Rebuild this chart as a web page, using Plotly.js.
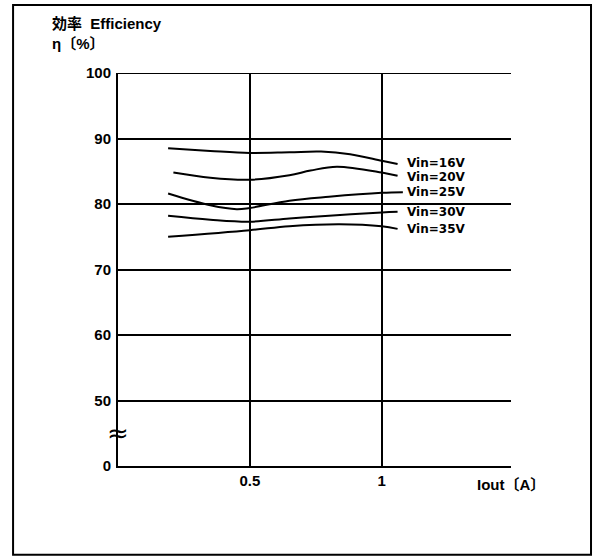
<!DOCTYPE html>
<html>
<head>
<meta charset="utf-8">
<script src="https://cdn.plot.ly/plotly-3.0.1.min.js"></script>
<style>html,body{margin:0;padding:0;background:#fff;}#chart{width:594px;height:557px;}</style>
</head>
<body>
<div id="chart"></div>
<script>
// Data (Iout in A, efficiency in %)
const seriesNames = ["Vin=16V", "Vin=20V", "Vin=25V", "Vin=30V", "Vin=35V"];
const x16 = [0.19, 0.35, 0.5, 0.65, 0.77, 0.88, 1.0, 1.06];
const y16 = [88.5, 88.1, 87.8, 87.9, 88.0, 87.6, 86.6, 86.1];
const x20 = [0.21, 0.35, 0.5, 0.65, 0.73, 0.83, 1.0, 1.06];
const y20 = [84.8, 84.0, 83.7, 84.4, 85.1, 85.7, 84.8, 84.3];
const x25 = [0.19, 0.35, 0.45, 0.5, 0.65, 0.8, 1.0, 1.08];
const y25 = [81.6, 79.8, 79.2, 79.4, 80.5, 81.1, 81.7, 81.8];
const x30 = [0.19, 0.35, 0.5, 0.65, 0.8, 1.0, 1.06];
const y30 = [78.2, 77.6, 77.3, 77.8, 78.2, 78.7, 78.8];
const x35 = [0.19, 0.5, 0.65, 0.84, 1.0, 1.06];
const y35 = [75.0, 76.0, 76.6, 76.9, 76.6, 76.2];
const yTickVals = [40, 50, 60, 70, 80, 90, 100];
const yTickText = ["0", "50", "60", "70", "80", "90", "100"];
const xTickVals = [0.5, 1];
const xTickText = ["0.5", "1"];

const xs = [x16, x20, x25, x30, x35];
const ys = [y16, y20, y25, y30, y35];
const labelX = 1.09;

const traces = seriesNames.map((n, i) => ({
  x: xs[i], y: ys[i], name: n, type: "scatter", mode: "lines",
  line: {color: "#000", width: 2, shape: "spline", smoothing: 1.0},
  hoverinfo: "skip"
}));

const labelShift = [1, -1, 0, 0, 0];
const annotations = seriesNames.map((n, i) => ({
  x: labelX, y: ys[i][ys[i].length - 1],
  xref: "x", yref: "y", text: n, showarrow: false,
  xanchor: "left", yanchor: "middle", yshift: labelShift[i], borderpad: 0,
  font: {family: "DejaVu Sans", size: 12, color: "#000", weight: "bold"}
}));
annotations.push({
  x: 1, y: 0, xref: "paper", yref: "paper", text: "Iout〔A〕", showarrow: false,
  xanchor: "center", yanchor: "top", yshift: -8,
  font: {family: "Liberation Sans, Noto Sans CJK JP", size: 15, color: "#000", weight: "bold"}
});
annotations.push({
  x: 0, y: 45, xref: "paper", yref: "y", text: "≈", showarrow: false,
  xanchor: "center", yanchor: "middle", xshift: 0,
  font: {family: "DejaVu Sans", size: 26, color: "#000"}
});
annotations.push({
  x: -0.173, y: 1.1247, xref: "paper", yref: "paper", text: "効率  Efficiency", showarrow: false,
  xanchor: "left", yanchor: "middle",
  font: {family: "Liberation Sans, Noto Sans CJK JP", size: 15, color: "#000", weight: "bold"}
});
annotations.push({
  x: -0.173, y: 1.0763, xref: "paper", yref: "paper", text: "η〔%〕", showarrow: false,
  xanchor: "left", yanchor: "middle",
  font: {family: "Liberation Sans, Noto Sans CJK JP", size: 15, color: "#000", weight: "bold"}
});

const layout = {
  width: 594, height: 557,
  margin: {l: 118, r: 83, t: 73, b: 91},
  paper_bgcolor: "#fff", plot_bgcolor: "#fff",
  showlegend: false,
  xaxis: {
    range: [0, 1.49], tickvals: xTickVals, ticktext: xTickText,
    showgrid: true, gridcolor: "#000", gridwidth: 2,
    showline: true, linecolor: "#000", linewidth: 2,
    zeroline: false, ticks: "", ticklabelstandoff: 0,
    tickfont: {family: "Liberation Sans", size: 15, color: "#000", weight: "bold"}
  },
  yaxis: {
    range: [40, 100], tickvals: yTickVals, ticktext: yTickText,
    showgrid: true, gridcolor: "#000", gridwidth: 2,
    showline: true, linecolor: "#000", linewidth: 2,
    zeroline: false, ticks: "", ticklabelstandoff: 2,
    tickfont: {family: "Liberation Sans", size: 15, color: "#000", weight: "bold"}
  },
  annotations: annotations,
  shapes: [
    {type: "line", xref: "paper", yref: "y", x0: 0, x1: 1, y0: 100, y1: 100,
     line: {color: "#000", width: 2}, layer: "above"},
    {type: "rect", xref: "paper", yref: "paper",
     x0: -0.267, x1: 1.2036, y0: -0.226, y1: 1.173,
     line: {color: "#000", width: 2}, layer: "above"}
  ]
};

Plotly.newPlot("chart", traces, layout, {staticPlot: true, displayModeBar: false});
</script>
</body>
</html>
